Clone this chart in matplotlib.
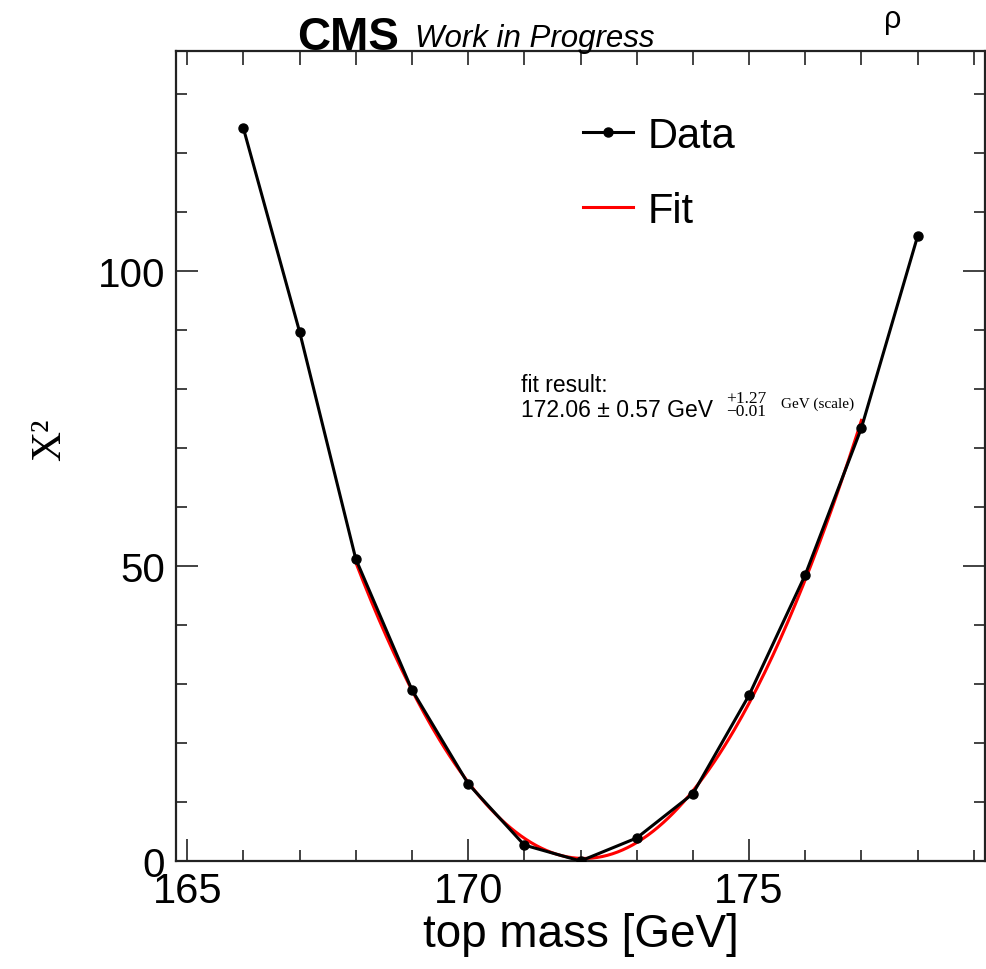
import numpy as np
import matplotlib
matplotlib.use("Agg")
import matplotlib.pyplot as plt
from matplotlib.ticker import MultipleLocator, FixedLocator

# data ---------------------------------------------------------------------
top_mass = [166, 167, 168, 169, 170, 171, 172, 173, 174, 175, 176, 177, 178]
chi2 = [124.2, 89.7, 51.2, 29.0, 13.1, 2.7, 0.0, 3.9, 11.4, 28.1, 48.5, 73.4, 105.9]
fit_lo, fit_hi = 168, 177

fit_text = ["fit result:", "172.06 \u00b1 0.57 GeV"]
scale_up, scale_down = "+1.27", "\u22120.01"

sans = ["Liberation Sans", "DejaVu Sans"]
serif = ["Liberation Serif", "DejaVu Serif"]
plt.rcParams["font.family"] = sans

fig = plt.figure(figsize=(9.87, 9.70), dpi=100)
ax = fig.add_axes([176 / 987, 1 - 862 / 970, 809 / 987, 810 / 970])

# parabola fit over the central points
x = np.array(top_mass, dtype=float)
y = np.array(chi2)
sel = (x >= fit_lo) & (x <= fit_hi)
coef = np.polyfit(x[sel], y[sel], 2)
xf = np.linspace(fit_lo, fit_hi, 200)

ax.plot(x, y, color="black", lw=2.2, marker="o", ms=6.5, label="Data", zorder=3)
ax.plot(xf, np.polyval(coef, xf), color="red", lw=2.2, label="Fit", zorder=2)

ax.set_xlim(164.8, 179.2)
ax.set_ylim(0, 137.3)

# ROOT style ticks
ax.xaxis.set_major_locator(FixedLocator([165, 170, 175]))
ax.xaxis.set_minor_locator(MultipleLocator(1))
ax.yaxis.set_major_locator(MultipleLocator(50))
ax.yaxis.set_minor_locator(MultipleLocator(10))
ax.tick_params(which="both", direction="in", top=False, right=True, width=1.2, color="#222222")
ax.tick_params(which="major", length=16)
ax.tick_params(which="minor", length=8)
ax.tick_params(axis="x", which="major", labelsize=30, pad=7)
ax.tick_params(axis="y", which="major", labelsize=29, pad=8)
top = ax.secondary_xaxis("top")
top.xaxis.set_major_locator(MultipleLocator(1))
top.tick_params(direction="in", length=10, width=1.2, color="#222222", labeltop=False)
top.spines["top"].set_visible(False)
for sp in ax.spines.values():
    sp.set_linewidth(1.6)
    sp.set_color("#222222")

ax.set_xlabel("top mass [GeV]", fontsize=33)
ax.xaxis.set_label_coords(0.5006, -0.09)
ax.xaxis.label.set_va("center")
ax.set_ylabel("X\u00b2", fontsize=30, family=serif)
ax.yaxis.set_label_coords(-0.156, 0.521)
ax.yaxis.label.set_va("center")

ax.legend(loc="upper left", bbox_to_anchor=(0.503, 0.92), frameon=False, fontsize=30,
          handlelength=1.2, handletextpad=0.35, labelspacing=0.84, numpoints=1,
          borderpad=0, borderaxespad=0)

# fit result
fig.text(521 / 987, 1 - 392 / 970, fit_text[0], fontsize=16.5, va="baseline")
fig.text(521 / 987, 1 - 417 / 970, fit_text[1], fontsize=16.5, va="baseline")
fig.text(726 / 987, 1 - 399 / 970, scale_up, fontsize=12.5, family=serif, va="center")
fig.text(726 / 987, 1 - 412 / 970, scale_down, fontsize=12.5, family=serif, va="center")
fig.text(781 / 987, 1 - 404 / 970, "GeV (scale)", fontsize=11, family=serif, va="center")

# header
fig.text(297 / 987, 1 - 50 / 970, "CMS", fontsize=33, weight="bold", va="baseline")
fig.text(415 / 987, 1 - 47 / 970, "Work in Progress", fontsize=22.5, style="italic", va="baseline")
fig.text(893 / 987, 1 - 20 / 970, "\u03c1", fontsize=22, ha="center", va="center")

fig.savefig("out.png", dpi=100)
